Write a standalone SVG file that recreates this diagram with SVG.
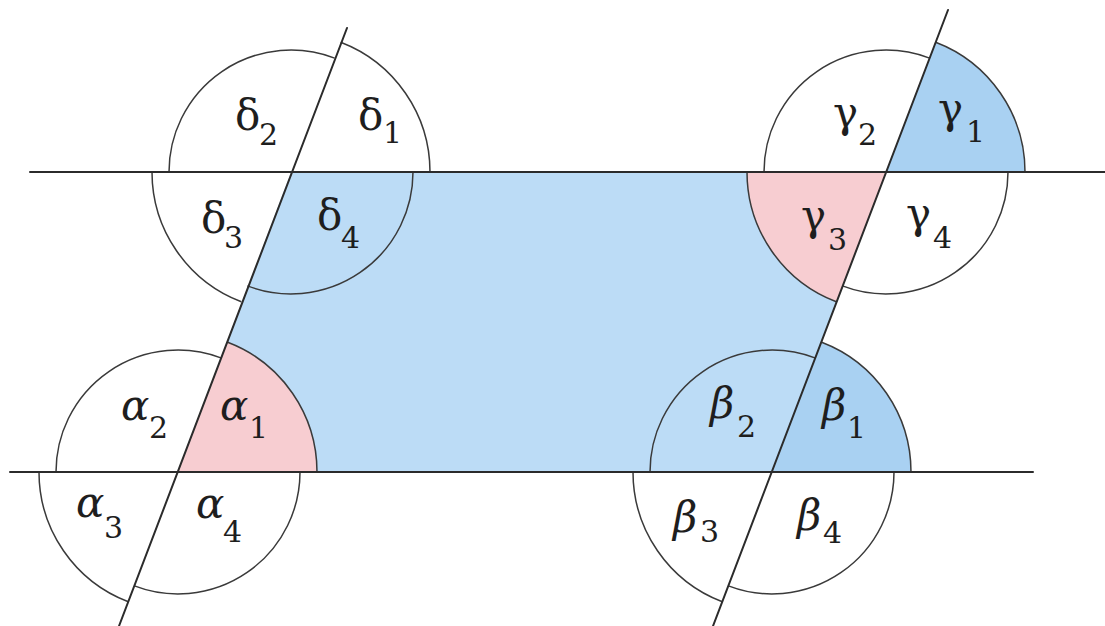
<svg xmlns="http://www.w3.org/2000/svg" width="1105" height="626" viewBox="0 0 1105 626">
<style>
.line{stroke:#2b2b2b;stroke-width:2;fill:none;stroke-linecap:round}
.arc{stroke:#3a3a3a;stroke-width:1.5;fill:none}
.blue{fill:#bcdcf6}
.dblue{fill:#a9d1f2}
.pink{fill:#f7cdd1}
text{fill:#1e1e1e;font-family:"DejaVu Serif","Liberation Serif",serif}
.g{font-size:42px}
.gi{font-style:italic}
.s{font-size:30px}
</style>
<rect width="1105" height="626" fill="#ffffff"/>
<g id="fills">
<path class="blue" d="M291,172 L886,172 L772,472 L178,472 Z"/>
<path class="dblue" d="M886,172 L935.7,42.2 A139,139 0 0 1 1025,172 Z"/>
<path class="dblue" d="M772,472 L821.7,342.2 A139,139 0 0 1 911,472 Z"/>
<path class="pink" d="M178,472 L227.7,342.2 A139,139 0 0 1 317,472 Z"/>
<path class="pink" d="M886,172 L836.3,301.8 A139,139 0 0 1 747,172 Z"/>
</g>
<g id="delta">
<path class="arc" d="M340.7,42.2 A139,139 0 0 1 430,172"/>
<path class="arc" d="M413,172 A122,122 0 0 1 247.4,285.9"/>
<path class="arc" d="M241.3,301.8 A139,139 0 0 1 152,172"/>
<path class="arc" d="M169,172 A122,122 0 0 1 334.6,58.1"/>
<text class="g" x="235" y="130">δ</text><text class="s" x="259" y="145">2</text>
<text class="g" x="358" y="130">δ</text><text class="s" x="383" y="143">1</text>
<text class="g" x="201" y="233">δ</text><text class="s" x="224" y="248">3</text>
<text class="g" x="317" y="230">δ</text><text class="s" x="341" y="248">4</text>
</g>
<g id="gamma">
<path class="arc" d="M935.7,42.2 A139,139 0 0 1 1025,172"/>
<path class="arc" d="M1008,172 A122,122 0 0 1 842.4,285.9"/>
<path class="arc" d="M836.3,301.8 A139,139 0 0 1 747,172"/>
<path class="arc" d="M764,172 A122,122 0 0 1 929.6,58.1"/>
<text class="g" x="833" y="127">γ</text><text class="s" x="858" y="145">2</text>
<text class="g" x="938" y="123">γ</text><text class="s" x="966" y="142">1</text>
<text class="g" x="801" y="230">γ</text><text class="s" x="828" y="250">3</text>
<text class="g" x="906" y="228">γ</text><text class="s" x="933" y="248">4</text>
</g>
<g id="alpha">
<path class="arc" d="M227.7,342.2 A139,139 0 0 1 317,472"/>
<path class="arc" d="M300,472 A122,122 0 0 1 134.4,585.9"/>
<path class="arc" d="M128.3,601.8 A139,139 0 0 1 39,472"/>
<path class="arc" d="M56,472 A122,122 0 0 1 221.6,358.1"/>
<text class="g gi" x="121" y="420">α</text><text class="s" x="149" y="438">2</text>
<text class="g gi" x="220" y="420">α</text><text class="s" x="249" y="438">1</text>
<text class="g gi" x="76" y="517">α</text><text class="s" x="104" y="538">3</text>
<text class="g gi" x="196" y="518">α</text><text class="s" x="223" y="542">4</text>
</g>
<g id="beta">
<path class="arc" d="M821.7,342.2 A139,139 0 0 1 911,472"/>
<path class="arc" d="M894,472 A122,122 0 0 1 728.4,585.9"/>
<path class="arc" d="M722.3,601.8 A139,139 0 0 1 633,472"/>
<path class="arc" d="M650,472 A122,122 0 0 1 815.6,358.1"/>
<text class="g gi" x="710" y="418">β</text><text class="s" x="737" y="437">2</text>
<text class="g gi" x="822" y="420">β</text><text class="s" x="847" y="438">1</text>
<text class="g gi" x="673" y="532">β</text><text class="s" x="700" y="542">3</text>
<text class="g gi" x="797" y="530">β</text><text class="s" x="823" y="543">4</text>
</g>
<g id="connectors">
<line class="line" x1="30" y1="172" x2="1105" y2="172"/>
<line class="line" x1="10" y1="472" x2="1033" y2="472"/>
<line class="line" x1="347" y1="28" x2="119" y2="626"/>
<line class="line" x1="948" y1="10" x2="713" y2="626"/>
</g>
</svg>
